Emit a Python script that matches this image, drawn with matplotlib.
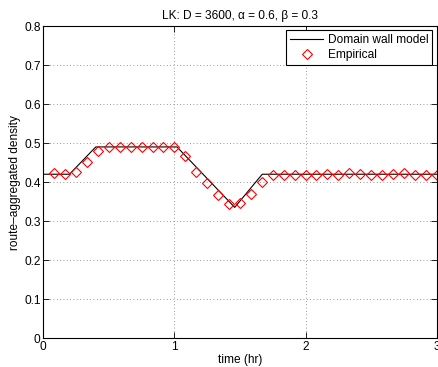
import numpy as np
import matplotlib
matplotlib.use('Agg')
import matplotlib.pyplot as plt

plt.rcParams['font.family'] = ['Liberation Sans', 'DejaVu Sans']

# Domain wall model (piecewise linear breakpoints)
model_t = [0.0, 0.2, 0.4, 1.02, 1.46, 1.67, 3.0]
model_rho = [0.42, 0.42, 0.49, 0.49, 0.335, 0.42, 0.42]

# Empirical densities every 5 minutes
emp_t = [k / 12 for k in range(1, 37)]
emp_rho = [0.422, 0.421, 0.425, 0.451, 0.479,
           0.489, 0.489, 0.489, 0.489, 0.489, 0.489, 0.489,
           0.468, 0.426, 0.397, 0.368, 0.344, 0.347, 0.370, 0.399,
           0.418, 0.418, 0.418, 0.418, 0.419, 0.420, 0.419, 0.422,
           0.420, 0.419, 0.419, 0.420, 0.422, 0.419, 0.419, 0.419]

fs = 8.6

fig = plt.figure(figsize=(4.39, 3.67), dpi=100)
ax = fig.add_axes([0.0986, 0.079, 0.896, 0.850])

ax.plot(model_t, model_rho, color='black', lw=0.8, label='Domain wall model')
ax.plot(emp_t, emp_rho, linestyle='none', marker='D', markersize=4.6,
        markerfacecolor='none', markeredgecolor='red', markeredgewidth=0.8,
        label='Empirical')

ax.set_xlim(0, 3)
ax.set_ylim(0, 0.8)
ax.set_xticks([0, 1, 2, 3])
ax.set_yticks(np.arange(0, 0.81, 0.1))
ax.set_yticklabels(['0', '0.1', '0.2', '0.3', '0.4', '0.5', '0.6', '0.7', '0.8'])
ax.tick_params(direction='in', top=True, right=True, labelsize=fs, length=4, width=0.6, pad=2)
ax.grid(True, linestyle=(0, (1, 3)), color='#777777', linewidth=0.6)
for s in ax.spines.values():
    s.set_linewidth(0.8)

ax.set_xlabel('time (hr)', fontsize=fs, labelpad=1)
ax.set_ylabel('route–aggregated density', fontsize=fs, labelpad=2)
ax.set_title('LK: D = 3600, α = 0.6, β = 0.3', fontsize=fs, pad=5)

leg = ax.legend(loc='upper right', fontsize=fs, frameon=True, fancybox=False,
                edgecolor='black', framealpha=1, borderaxespad=0.35,
                handlelength=2.8, handletextpad=0.4, borderpad=0.3,
                labelspacing=0.3)
leg.get_frame().set_linewidth(0.8)

fig.savefig('out.png', dpi=100)
